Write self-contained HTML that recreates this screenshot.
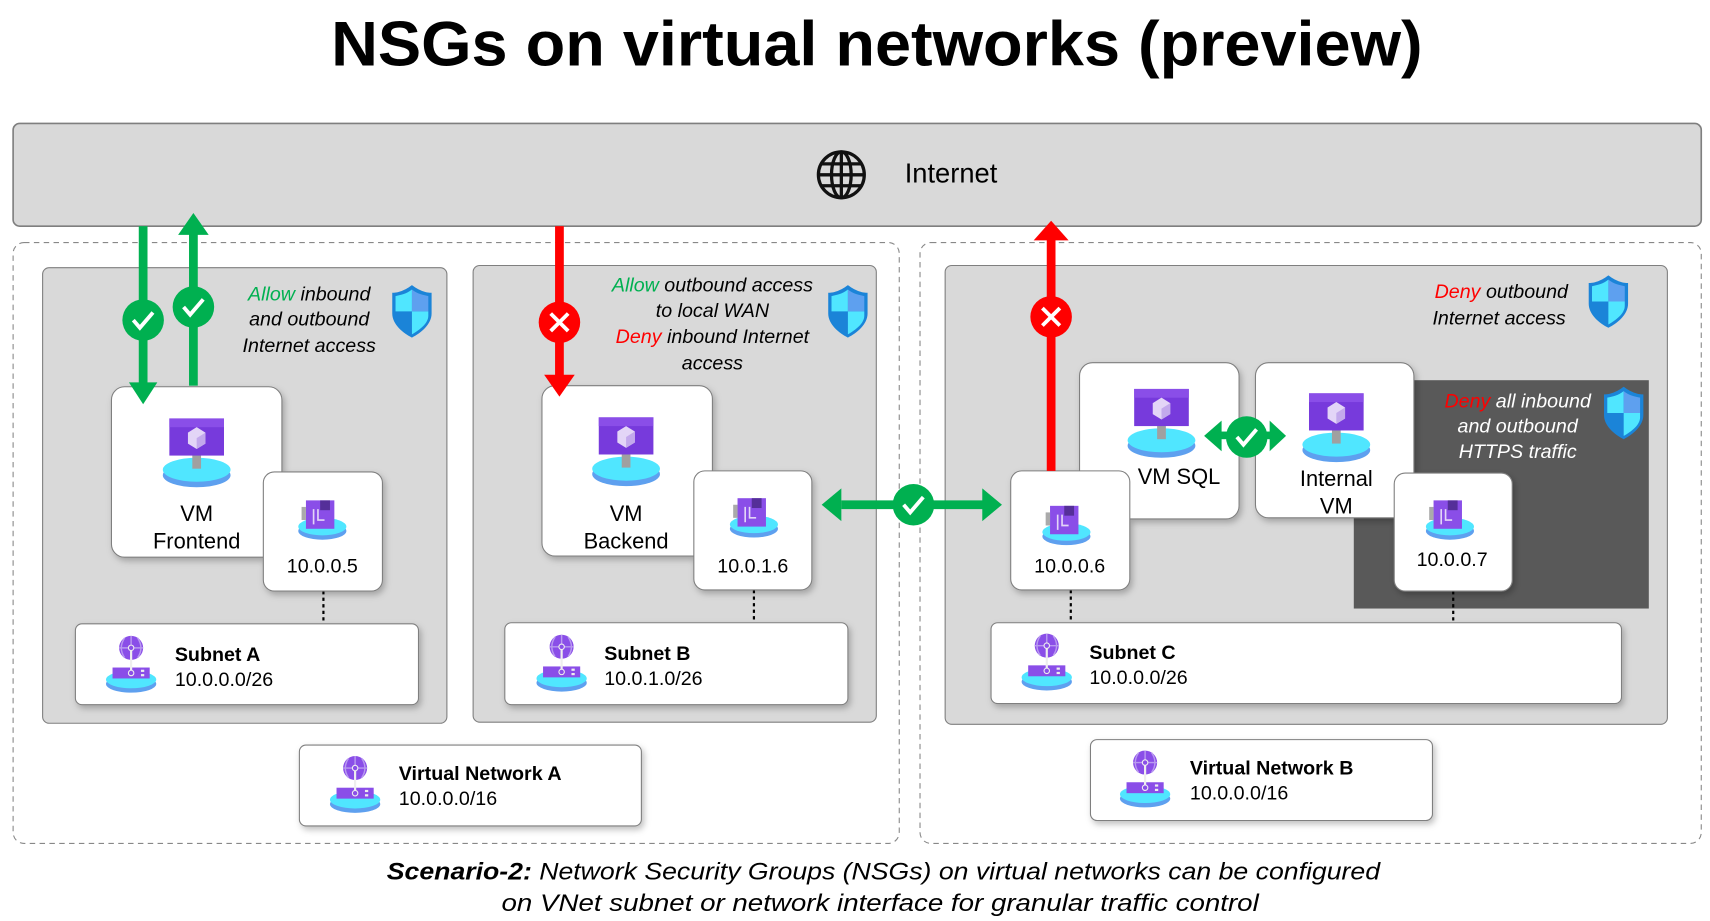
<!DOCTYPE html>
<html><head><meta charset="utf-8"><style>
html,body{margin:0;padding:0;background:#fff;}
svg{display:block;}
text{font-family:"Liberation Sans",sans-serif;fill:#000;}
</style></head><body>
<svg width="1710" height="921" viewBox="0 0 1565 843" preserveAspectRatio="none" xmlns="http://www.w3.org/2000/svg">
<defs>
  <g id="vm">
    <ellipse cx="0" cy="22" rx="31" ry="11" fill="#5ea0ef"/>
    <ellipse cx="0" cy="17" rx="31" ry="11" fill="#50e6ff"/>
    <rect x="-4" y="2" width="8" height="14" fill="#a0a0a0"/>
    <rect x="-25" y="-30" width="50" height="34" fill="#773adc"/>
    <rect x="-25" y="-30" width="50" height="8" fill="#8a4ee8"/>
    <polygon points="0,-22 8,-17 8,-7 0,-2 -8,-7 -8,-17" fill="#e3d5f7"/>
    <polygon points="0,-12 8,-17 8,-7 0,-2" fill="#c3a9ec"/>
  </g>
  <g id="nic">
    <ellipse cx="0" cy="14" rx="22" ry="8" fill="#5ea0ef"/>
    <ellipse cx="0" cy="10" rx="22" ry="8" fill="#50e6ff"/>
    <rect x="-15" y="-14" width="26" height="26" fill="#8a4ee8"/>
    <rect x="-2" y="-14" width="9" height="9" fill="#552f99"/>
    <rect x="-19" y="-8" width="4" height="12" fill="#aaa"/>
    <path d="M-8,-6 v14 M-4,-6 v10 h6" stroke="#e3d5f7" stroke-width="1.5" fill="none"/>
  </g>
  <g id="snet">
    <ellipse cx="0" cy="15" rx="23" ry="8" fill="#5ea0ef"/>
    <ellipse cx="0" cy="11" rx="23" ry="8" fill="#50e6ff"/>
    <rect x="-17" y="0" width="34" height="10" fill="#8a4ee8"/>
    <circle cx="0" cy="-18" r="11" fill="#8a4ee8"/>
    <path d="M0,-29 v29 M-11,-18 h22 M-6,-27 q-6,9 0,18 M6,-27 q6,9 0,18" stroke="#b99af0" stroke-width="1.3" fill="none"/>
    <line x1="0" y1="-18" x2="0" y2="5" stroke="#eee" stroke-width="2"/>
    <circle cx="0" cy="5" r="2.5" fill="#8a4ee8" stroke="#eee"/>
    <circle cx="0" cy="-18" r="2.5" fill="#8a4ee8" stroke="#eee"/>
    <rect x="9" y="2" width="3" height="2" fill="#eee"/><rect x="9" y="6" width="3" height="2" fill="#eee"/>
  </g>
  <g id="shield">
    <path d="M0,-24 C8,-18 14,-17 18,-17 L18,2 C18,12 8,20 0,24 C-8,20 -18,12 -18,2 L-18,-17 C-14,-17 -8,-18 0,-24Z" fill="#1b84d8"/>
    <path d="M0,-20 L0,0 L-15,0 L-15,-14 C-10,-15 -5,-16 0,-20Z" fill="#50e6ff"/>
    <path d="M0,0 L15,0 L15,4 C15,11 7,17 0,21Z" fill="#50e6ff"/>
    <path d="M0,-20 C5,-16 10,-15 15,-14 L15,0 L0,0Z" fill="#5ea0ef"/>
  </g>
  <g id="ok"><circle r="19" fill="#00b050"/><path d="M-9,0 L-3,7 L9,-7" stroke="#fff" stroke-width="3.5" fill="none"/></g>
  <g id="no"><circle r="19" fill="#ff0000"/><path d="M-8,-8 L8,8 M8,-8 L-8,8" stroke="#fff" stroke-width="3.5"/></g>
  <filter id="sh" x="-10%" y="-10%" width="130%" height="130%"><feDropShadow dx="2" dy="3" stdDeviation="3" flood-opacity="0.25"/></filter>
</defs>

<text x="303" y="60" font-size="58" font-weight="bold" textLength="999" lengthAdjust="spacingAndGlyphs">NSGs on virtual networks (preview)</text>

<!-- Internet -->
<rect x="12" y="113" width="1545" height="94" rx="6" fill="#d9d9d9" stroke="#7f7f7f" stroke-width="1.5"/>
<g transform="translate(770,160)" stroke="#111" stroke-width="3" fill="none">
  <circle r="21"/><ellipse rx="9" ry="21"/><line x1="-21" y1="0" x2="21" y2="0"/><line x1="-18" y1="-10" x2="18" y2="-10"/><line x1="-18" y1="10" x2="18" y2="10"/><line x1="0" y1="-21" x2="0" y2="21"/>
</g>
<text x="828" y="167" font-size="25">Internet</text>

<!-- dashed outers -->
<rect x="12" y="222" width="811" height="550" rx="10" fill="none" stroke="#888" stroke-dasharray="5,4"/>
<rect x="842" y="222" width="715" height="550" rx="10" fill="none" stroke="#888" stroke-dasharray="5,4"/>

<!-- subnet panels -->
<rect x="39" y="245" width="370" height="417" rx="6" fill="#d9d9d9" stroke="#7f7f7f"/>
<rect x="433" y="243" width="369" height="418" rx="6" fill="#d9d9d9" stroke="#7f7f7f"/>
<rect x="865" y="243" width="661" height="420" rx="6" fill="#d9d9d9" stroke="#7f7f7f"/>
<rect x="1239" y="348" width="270" height="209" fill="#595959"/>

<!-- dotted lines -->
<g stroke="#000" stroke-width="2" stroke-dasharray="3,3">
<line x1="296" y1="541" x2="296" y2="571"/><line x1="690" y1="540" x2="690" y2="570"/>
<line x1="980" y1="540" x2="980" y2="570"/><line x1="1330" y1="541" x2="1330" y2="570"/>
</g>

<!-- cards -->
<g filter="url(#sh)" fill="#fff" stroke="#7f7f7f">
<rect x="102" y="354" width="156" height="156" rx="12"/>
<rect x="496" y="353" width="156" height="156" rx="12"/>
<rect x="988" y="332" width="146" height="143" rx="12"/>
<rect x="1149" y="332" width="145" height="142" rx="12"/>
<rect x="241" y="432" width="109" height="109" rx="10"/>
<rect x="635" y="431" width="108" height="109" rx="10"/>
<rect x="925" y="431" width="109" height="109" rx="10"/>
<rect x="1276" y="433" width="108" height="108" rx="10"/>
<rect x="69" y="571" width="314" height="74" rx="6"/>
<rect x="462" y="570" width="314" height="75" rx="6"/>
<rect x="907" y="570" width="577" height="74" rx="6"/>
<rect x="274" y="682" width="313" height="74" rx="6"/>
<rect x="998" y="677" width="313" height="74" rx="6"/>
</g>

<use href="#vm" x="180" y="413"/><use href="#vm" x="573" y="412"/><use href="#vm" x="1063" y="386"/><use href="#vm" x="1223" y="390"/>
<use href="#nic" x="295" y="472"/><use href="#nic" x="690" y="470"/><use href="#nic" x="976" y="477"/><use href="#nic" x="1327" y="472"/>
<use href="#snet" x="120" y="611"/><use href="#snet" x="514" y="610"/><use href="#snet" x="958" y="609"/><use href="#snet" x="325" y="721"/><use href="#snet" x="1048" y="716"/>

<g font-size="20" text-anchor="middle">
<text x="180" y="477">VM</text><text x="180" y="502">Frontend</text>
<text x="573" y="477">VM</text><text x="573" y="502">Backend</text>
<text x="1079" y="443">VM SQL</text>
<text x="1223" y="445">Internal</text><text x="1223" y="470">VM</text>
<text x="295" y="524" font-size="18">10.0.0.5</text>
<text x="689" y="524" font-size="18">10.0.1.6</text>
<text x="979" y="524" font-size="18">10.0.0.6</text>
<text x="1329" y="518" font-size="18">10.0.0.7</text>
</g>
<g font-size="18">
<text x="160" y="605" font-weight="bold">Subnet A</text><text x="160" y="628">10.0.0.0/26</text>
<text x="553" y="604" font-weight="bold">Subnet B</text><text x="553" y="627">10.0.1.0/26</text>
<text x="997" y="603" font-weight="bold">Subnet C</text><text x="997" y="626">10.0.0.0/26</text>
<text x="365" y="714" font-weight="bold">Virtual Network A</text><text x="365" y="737">10.0.0.0/16</text>
<text x="1089" y="709" font-weight="bold">Virtual Network B</text><text x="1089" y="732">10.0.0.0/16</text>
</g>

<!-- NSG labels -->
<g font-size="18" font-style="italic" text-anchor="middle">
<text x="283" y="275"><tspan fill="#00b050">Allow</tspan> inbound</text>
<text x="283" y="298">and outbound</text>
<text x="283" y="322">Internet access</text>
<text x="652" y="267"><tspan fill="#00b050">Allow</tspan> outbound access</text>
<text x="652" y="290">to local WAN</text>
<text x="652" y="314"><tspan fill="#ff0000">Deny</tspan> inbound Internet</text>
<text x="652" y="338">access</text>
<text x="1374" y="273"><tspan fill="#ff0000">Deny</tspan> outbound</text>
<text x="1372" y="297">Internet access</text>
<text x="1389" y="373"><tspan fill="#ff0000">Deny</tspan><tspan style="fill:#fff"> all inbound</tspan></text>
<text x="1389" y="396" style="fill:#fff">and outbound</text>
<text x="1389" y="419" style="fill:#fff">HTTPS traffic</text>
</g>
<use href="#shield" x="377" y="285"/><use href="#shield" x="776" y="285"/><use href="#shield" x="1472" y="276"/><use href="#shield" x="1486" y="378"/>

<!-- arrows -->
<g fill="#00b050" stroke="none">
<rect x="127" y="207" width="8" height="145"/><polygon points="118,350 144,350 131,370"/>
<rect x="173" y="213" width="8" height="140"/><polygon points="163,215 191,215 177,195"/>
<rect x="770" y="458" width="130" height="8"/><polygon points="770,447 770,477 752,462"/><polygon points="899,447 899,477 917,462"/>
<rect x="1115" y="395" width="50" height="7"/><polygon points="1118,385 1118,413 1102,399"/><polygon points="1162,385 1162,413 1177,399"/>
</g>
<g fill="#ff0000">
<rect x="508" y="207" width="8" height="138"/><polygon points="498,343 526,343 512,363"/>
<rect x="958" y="218" width="8" height="213"/><polygon points="946,220 978,220 962,202"/>
</g>
<use href="#ok" x="131" y="293"/><use href="#ok" x="177" y="281"/><use href="#ok" x="836" y="462"/><use href="#ok" x="1141" y="400"/>
<use href="#no" x="512" y="295"/><use href="#no" x="962" y="290"/>

<g font-size="22" font-style="italic">
<text x="354" y="805" textLength="909" lengthAdjust="spacingAndGlyphs"><tspan font-weight="bold">Scenario-2:</tspan> Network Security Groups (NSGs) on virtual networks can be configured</text>
<text x="459" y="834" textLength="693" lengthAdjust="spacingAndGlyphs">on VNet subnet or network interface for granular traffic control</text>
</g>
</svg>
</body></html>
